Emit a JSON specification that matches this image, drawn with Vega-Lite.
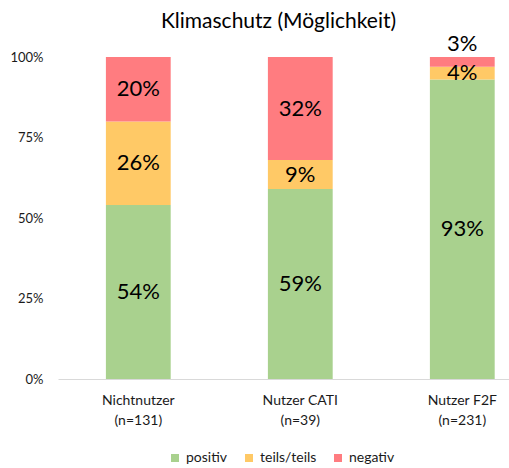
{
  "$schema": "https://vega.github.io/schema/vega-lite/v6.json",
  "width": 451,
  "height": 322,
  "autosize": {"type": "none"},
  "padding": {"left": 58, "top": 57, "right": 0, "bottom": 89},
  "background": "white",
  "config": {
    "view": {"stroke": null},
    "font": "Lato",
    "text": {"font": "Lato"}
  },
  "title": {
    "text": "Klimaschutz (Möglichkeit)",
    "fontSize": 21,
    "fontWeight": "normal",
    "font": "Lato",
    "color": "#000000",
    "frame": "group",
    "anchor": "middle",
    "baseline": "alphabetic",
    "dx": -5,
    "offset": -16
  },
  "data": {
    "values": [
      {"group": "Nichtnutzer|(n=131)", "answer": "positiv", "rank": 1, "value": 0.54},
      {"group": "Nichtnutzer|(n=131)", "answer": "teils/teils", "rank": 2, "value": 0.26},
      {"group": "Nichtnutzer|(n=131)", "answer": "negativ", "rank": 3, "value": 0.20},
      {"group": "Nutzer CATI|(n=39)", "answer": "positiv", "rank": 1, "value": 0.59},
      {"group": "Nutzer CATI|(n=39)", "answer": "teils/teils", "rank": 2, "value": 0.09},
      {"group": "Nutzer CATI|(n=39)", "answer": "negativ", "rank": 3, "value": 0.32},
      {"group": "Nutzer F2F|(n=231)", "answer": "positiv", "rank": 1, "value": 0.93},
      {"group": "Nutzer F2F|(n=231)", "answer": "teils/teils", "rank": 2, "value": 0.04},
      {"group": "Nutzer F2F|(n=231)", "answer": "negativ", "rank": 3, "value": 0.03}
    ]
  },
  "encoding": {
    "x": {
      "field": "group",
      "type": "nominal",
      "sort": null,
      "scale": {"paddingInner": 0.6, "paddingOuter": 0.192, "align": 0.77},
      "axis": {
        "title": null,
        "labelAngle": 0,
        "labelExpr": "split(datum.label, '|')",
        "labelFontSize": 14,
        "labelLineHeight": 20,
        "labelColor": "#1a1a1a",
        "labelPadding": 14,
        "ticks": false,
        "domainColor": "#d9d9d9",
        "domainWidth": 1,
        "grid": false
      }
    }
  },
  "layer": [
    {
      "mark": {"type": "bar"},
      "encoding": {
        "y": {
          "field": "value",
          "type": "quantitative",
          "stack": "zero",
          "scale": {"domain": [0, 1]},
          "axis": {
            "title": null,
            "values": [0, 0.25, 0.5, 0.75, 1],
            "format": ".0%",
            "labelFontSize": 13,
            "labelColor": "#1a1a1a",
            "labelPadding": 15,
            "domain": false,
            "ticks": false,
            "grid": false
          }
        },
        "order": {"field": "rank", "type": "quantitative"},
        "color": {
          "field": "answer",
          "type": "nominal",
          "sort": ["positiv", "teils/teils", "negativ"],
          "scale": {
            "domain": ["positiv", "teils/teils", "negativ"],
            "range": ["#a9d18e", "#ffc966", "#ff7c80"]
          },
          "legend": {
            "title": null,
            "orient": "none",
            "legendX": 110,
            "legendY": 394,
            "direction": "horizontal",
            "symbolType": "square",
            "symbolSize": 64,
            "symbolStrokeWidth": 0,
            "labelFontSize": 14,
            "labelColor": "#1a1a1a",
            "columnPadding": 14,
            "labelOffset": 4
          }
        }
      }
    },
    {
      "transform": [{"filter": "!(datum.group == 'Nutzer F2F|(n=231)' && datum.answer == 'negativ')"}],
      "mark": {"type": "text", "fontSize": 22, "baseline": "middle", "font": "Lato", "color": "#000000"},
      "encoding": {
        "y": {"field": "value", "type": "quantitative", "stack": "zero", "bandPosition": 0.5},
        "detail": {"field": "answer"},
        "order": {"field": "rank", "type": "quantitative"},
        "text": {"field": "value", "type": "quantitative", "format": ".0%"}
      }
    },
    {
      "transform": [{"filter": "datum.group == 'Nutzer F2F|(n=231)' && datum.answer == 'negativ'"}],
      "mark": {"type": "text", "fontSize": 22, "baseline": "alphabetic", "dy": -6, "color": "#000000", "font": "Lato"},
      "encoding": {
        "y": {"datum": 1},
        "text": {"field": "value", "type": "quantitative", "format": ".0%"}
      }
    }
  ]
}
